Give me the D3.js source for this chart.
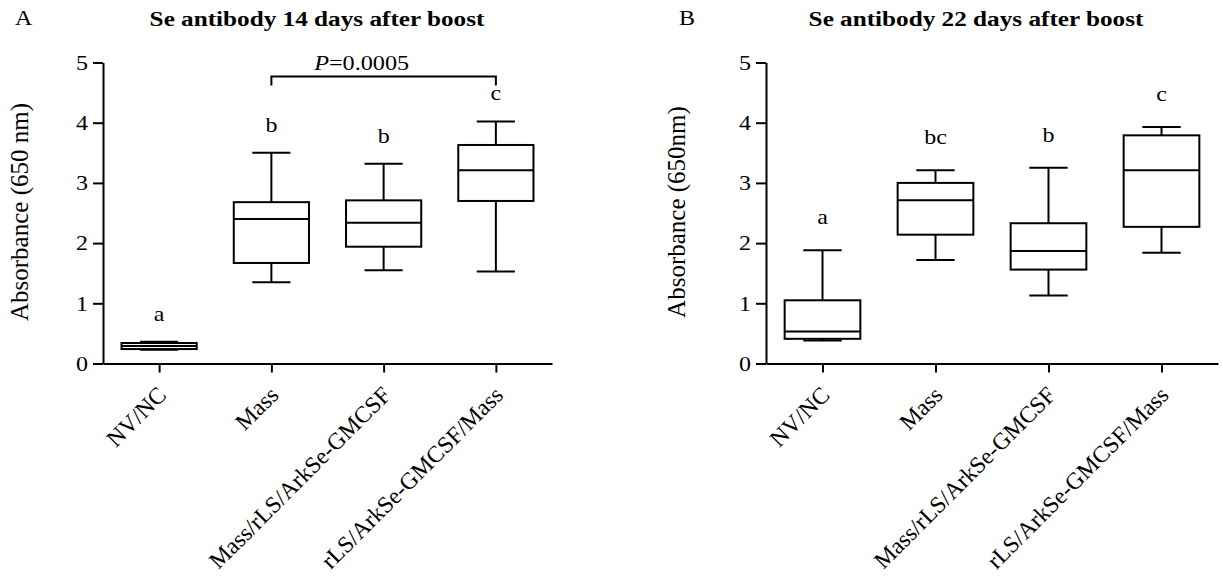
<!DOCTYPE html>
<html>
<head>
<meta charset="utf-8">
<script src="https://cdn.jsdelivr.net/npm/d3@7"></script>
<style>
  html, body { margin: 0; padding: 0; background: #fff; }
  svg { display: block; }
  text { font-family: "Liberation Serif", "Times New Roman", serif; fill: #000; }
</style>
</head>
<body>
<svg id="chart" width="1222" height="586"></svg>
<script>
// ---- Data ----
const categories = ["NV/NC", "Mass", "Mass/rLS/ArkSe-GMCSF", "rLS/ArkSe-GMCSF/Mass"];
const yTicks = [0, 1, 2, 3, 4, 5];

// Panel A: Se antibody 14 days after boost
const a14Min    = [0.23, 1.35, 1.55, 1.53];
const a14Q1     = [0.24, 1.67, 1.94, 2.70];
const a14Median = [0.29, 2.40, 2.34, 3.21];
const a14Q3     = [0.34, 2.68, 2.71, 3.63];
const a14Max    = [0.36, 3.50, 3.32, 4.02];
const a14Letters = ["a", "b", "b", "c"];

// Panel B: Se antibody 22 days after boost
const b22Min    = [0.38, 1.72, 1.13, 1.84];
const b22Q1     = [0.41, 2.14, 1.56, 2.27];
const b22Median = [0.53, 2.71, 1.87, 3.21];
const b22Q3     = [1.05, 3.00, 2.33, 3.79];
const b22Max    = [1.88, 3.21, 3.25, 3.93];
const b22Letters = ["a", "bc", "b", "c"];

const svg = d3.select("#chart");
const SX = 1.2; // horizontal stretch of the upright texts in the original figure

function stretchedText(parent, x, y, size, str, anchor, weight) {
  return parent.append("text")
    .attr("transform", `translate(${x},${y}) scale(${SX},1)`)
    .attr("text-anchor", anchor || "middle")
    .attr("font-size", size)
    .attr("font-weight", weight || "normal")
    .text(str);
}

function panel(cfg) {
  const g = svg.append("g");
  const x = d3.scalePoint().domain(categories).range([cfg.x0, cfg.x1]).padding(0.5);
  const y = d3.scaleLinear().domain([0, 5]).range([363.5, 62.5]);
  const step = x.step();
  const boxW = step * 0.67;
  const capW = step * 0.34;

  const rows = categories.map((c, i) => ({
    c, min: cfg.min[i], q1: cfg.q1[i], med: cfg.med[i], q3: cfg.q3[i], max: cfg.max[i], letter: cfg.letters[i]
  }));

  const bx = g.append("g").attr("stroke", "#000").attr("stroke-width", 2).attr("fill", "none");
  rows.forEach(r => {
    const cx = x(r.c);
    bx.append("line").attr("x1", cx).attr("x2", cx).attr("y1", y(r.max)).attr("y2", y(r.q3));
    bx.append("line").attr("x1", cx).attr("x2", cx).attr("y1", y(r.q1)).attr("y2", y(r.min));
    bx.append("line").attr("x1", cx - capW / 2).attr("x2", cx + capW / 2).attr("y1", y(r.max)).attr("y2", y(r.max));
    bx.append("line").attr("x1", cx - capW / 2).attr("x2", cx + capW / 2).attr("y1", y(r.min)).attr("y2", y(r.min));
    bx.append("rect").attr("x", cx - boxW / 2).attr("width", boxW)
      .attr("y", y(r.q3)).attr("height", y(r.q1) - y(r.q3)).attr("fill", "#fff");
    bx.append("line").attr("x1", cx - boxW / 2).attr("x2", cx + boxW / 2).attr("y1", y(r.med)).attr("y2", y(r.med));
    stretchedText(g, cx, y(r.max) - cfg.letterGap, 20, r.letter);
  });

  // y axis
  const ya = g.append("g").attr("transform", `translate(${cfg.x0},0)`)
    .call(d3.axisLeft(y).tickValues(yTicks).tickFormat(d3.format("d")).tickSize(10).tickPadding(4).tickSizeOuter(0));
  ya.selectAll("line").attr("stroke-width", 2);
  ya.select(".domain").attr("stroke-width", 2);
  ya.selectAll("text")
    .attr("font-size", 20).attr("font-family", "Liberation Serif").attr("fill", "#000")
    .attr("x", 0).attr("dy", "0.34em")
    .attr("transform", `translate(-15,0) scale(${SX},1)`);

  // x axis
  const xa = g.append("g").attr("transform", `translate(0,${y(0)})`)
    .call(d3.axisBottom(x).tickSize(9).tickSizeOuter(0));
  xa.selectAll("line").attr("stroke-width", 2);
  xa.select(".domain").attr("stroke-width", 2);
  xa.selectAll("text")
    .attr("font-size", 23.5).attr("font-family", "Liberation Serif").attr("fill", "#000")
    .attr("text-anchor", "end")
    .attr("dy", null).attr("y", null)
    .attr("transform", "translate(8,33) rotate(-45)");

  // y label
  g.append("text").attr("transform", `translate(${cfg.ylabX},212) rotate(-90)`)
    .attr("text-anchor", "middle").attr("font-size", 25).text(cfg.ylab);

  // title and panel tag
  stretchedText(g, cfg.titleX, 26, 21, cfg.title, "middle", "bold");
  stretchedText(g, cfg.tagX, 25, 20, cfg.tag, "start");

  return { g, x, y };
}

const A = panel({
  x0: 103, x1: 552, min: a14Min, q1: a14Q1, med: a14Median, q3: a14Q3, max: a14Max,
  letters: a14Letters, letterGap: 21, ylab: "Absorbance (650 nm)", ylabX: 28,
  title: "Se antibody 14 days after boost", titleX: 317, tag: "A", tagX: 15
});
panel({
  x0: 766, x1: 1218, min: b22Min, q1: b22Q1, med: b22Median, q3: b22Q3, max: b22Max,
  letters: b22Letters, letterGap: 26, ylab: "Absorbance (650nm)", ylabX: 685,
  title: "Se antibody 22 days after boost", titleX: 976, tag: "B", tagX: 679
});

// significance bracket (panel A)
const bx1 = A.x(categories[1]), bx2 = A.x(categories[3]);
const barY = 76.5;
A.g.append("path")
  .attr("d", `M${bx1},${barY + 9}V${barY}H${bx2}V${barY + 9}`)
  .attr("fill", "none").attr("stroke", "#000").attr("stroke-width", 2);
const pt = A.g.append("text")
  .attr("transform", `translate(${(bx1 + bx2) / 2 - 22},70) scale(1.1,1)`)
  .attr("text-anchor", "middle").attr("font-size", 22);
pt.append("tspan").attr("font-style", "italic").text("P");
pt.append("tspan").text("=0.0005");
</script>
</body>
</html>
